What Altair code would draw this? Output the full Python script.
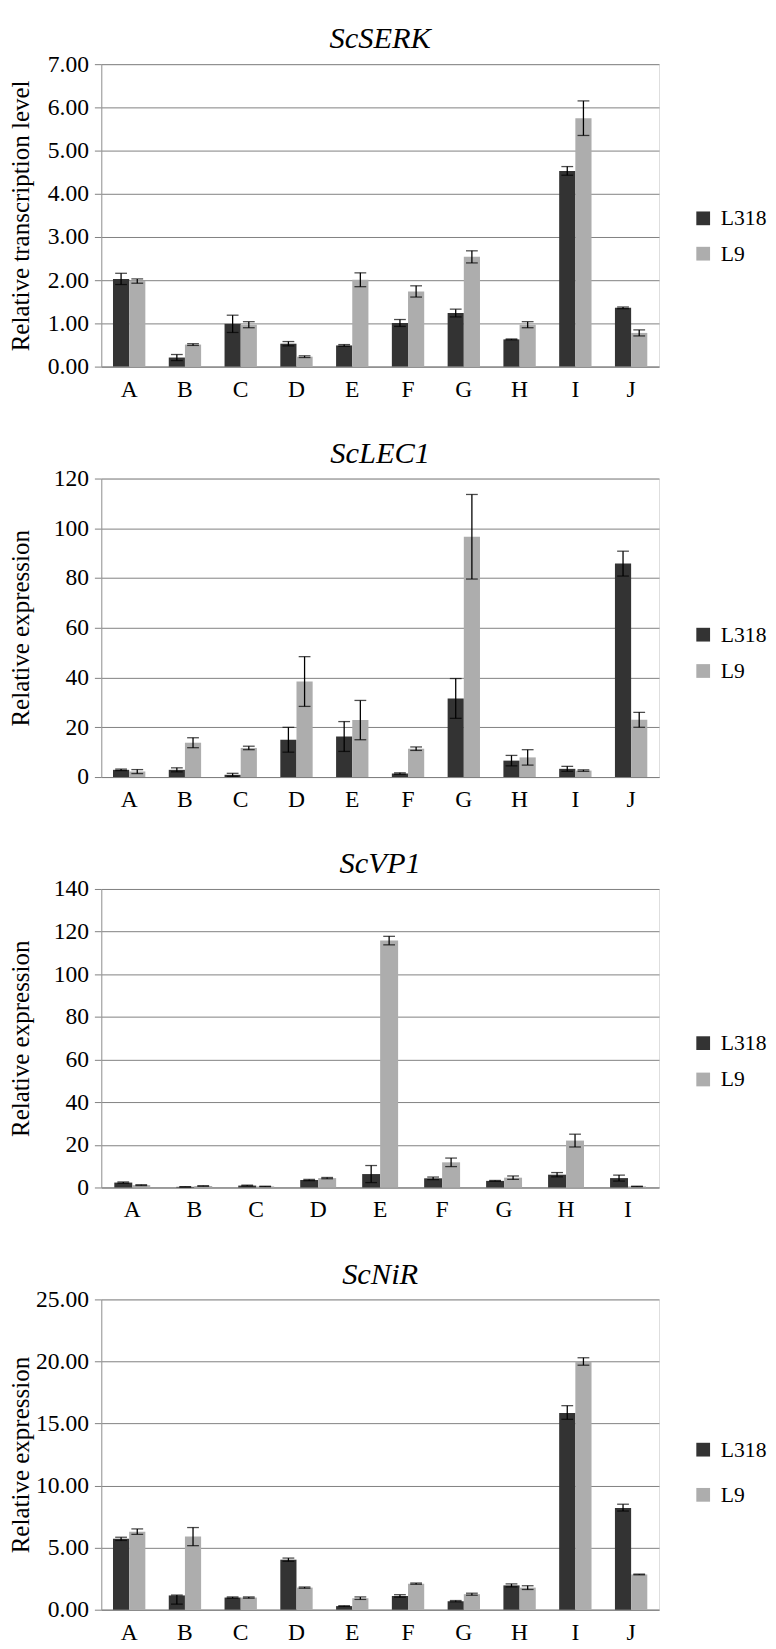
import altair as alt
import pandas as pd

FONT = "Liberation Serif"
SERIES = ["L318", "L9"]
COLORS = ["#333333", "#adadad"]
GRID = "#808080"

# ---- ScSERK ----
serk_cats = ["A", "B", "C", "D", "E", "F", "G", "H", "I", "J"]
serk_l318 = [2.03, 0.21, 0.99, 0.53, 0.49, 1.01, 1.24, 0.63, 4.53, 1.36]
serk_l318_err = [0.13, 0.07, 0.20, 0.05, 0.02, 0.08, 0.09, 0.01, 0.10, 0.02]
serk_l9 = [1.98, 0.51, 0.97, 0.23, 2.01, 1.74, 2.54, 0.97, 5.75, 0.78]
serk_l9_err = [0.05, 0.02, 0.07, 0.02, 0.16, 0.13, 0.14, 0.07, 0.40, 0.07]
serk_ticks = [0, 1, 2, 3, 4, 5, 6, 7]

# ---- ScLEC1 ----
lec_cats = ["A", "B", "C", "D", "E", "F", "G", "H", "I", "J"]
lec_l318 = [2.9, 2.9, 0.9, 15.0, 16.3, 1.4, 31.6, 6.6, 3.3, 85.8]
lec_l318_err = [0.3, 0.8, 0.6, 5.0, 6.0, 0.3, 8.0, 2.1, 1.0, 5.0]
lec_l9 = [2.2, 13.8, 11.7, 38.4, 22.9, 11.4, 96.6, 7.9, 2.6, 23.0]
lec_l9_err = [0.8, 2.0, 0.7, 10.0, 7.9, 0.7, 17.0, 3.1, 0.3, 3.0]
lec_ticks = [0, 20, 40, 60, 80, 100, 120]

# ---- ScVP1 ----
vp_cats = ["A", "B", "C", "D", "E", "F", "G", "H", "I"]
vp_l318 = [2.3, 0.3, 0.9, 3.5, 6.3, 4.3, 3.1, 6.0, 4.4]
vp_l318_err = [0.3, 0.1, 0.2, 0.3, 4.0, 0.6, 0.2, 1.0, 1.4]
vp_l9 = [1.1, 0.7, 0.5, 4.4, 115.8, 11.8, 4.6, 22.0, 0.5]
vp_l9_err = [0.2, 0.1, 0.1, 0.3, 2.0, 2.0, 0.8, 3.0, 0.1]
vp_ticks = [0, 20, 40, 60, 80, 100, 120, 140]

# ---- ScNiR ----
nir_cats = ["A", "B", "C", "D", "E", "F", "G", "H", "I", "J"]
nir_l318 = [5.71, 1.15, 0.98, 4.03, 0.29, 1.11, 0.69, 1.96, 15.84, 8.20]
nir_l318_err_lo = [0.13, 0.70, 0.05, 0.13, 0.03, 0.10, 0.05, 0.12, 0.50, 0.25]
nir_l318_err_hi = [0.13, 0.03, 0.05, 0.13, 0.03, 0.10, 0.05, 0.12, 0.60, 0.30]
nir_l9 = [6.29, 5.89, 0.98, 1.78, 0.93, 2.10, 1.25, 1.78, 20.00, 2.84]
nir_l9_err = [0.22, 0.73, 0.05, 0.05, 0.10, 0.05, 0.08, 0.15, 0.30, 0.03]
nir_ticks = [0, 5, 10, 15, 20, 25]


def make_df(cats, a, a_lo, a_hi, b, b_lo, b_hi):
    rows = []
    for i, c in enumerate(cats):
        rows.append({"cat": c, "series": "L318", "value": a[i],
                     "lo": a[i] - a_lo[i], "hi": a[i] + a_hi[i]})
        rows.append({"cat": c, "series": "L9", "value": b[i],
                     "lo": b[i] - b_lo[i], "hi": b[i] + b_hi[i]})
    return pd.DataFrame(rows)


def make_chart(df, cats, title, ytitle, ticks, fmt, height, legend_y, row_pad):
    ymax = ticks[-1]
    xenc = alt.X("cat:N", sort=cats,
                 scale=alt.Scale(domain=cats, paddingInner=0.42, paddingOuter=0.21),
                 axis=alt.Axis(title=None, ticks=False, labelAngle=0, labelPadding=11,
                               labelFont=FONT, labelFontSize=24, labelColor="black",
                               domainColor=GRID, domainWidth=1, grid=False))
    xoff = alt.XOffset("series:N", sort=SERIES,
                       scale=alt.Scale(domain=SERIES, paddingInner=0, paddingOuter=0))
    base = alt.Chart(df).encode(x=xenc, xOffset=xoff)
    yscale = alt.Scale(domain=[0, ymax], nice=False)
    bars = base.mark_bar().encode(
        y=alt.Y("value:Q", scale=yscale,
                axis=alt.Axis(values=ticks, format=fmt, title=ytitle,
                              grid=True, gridColor=GRID, gridWidth=1,
                              domainColor="#999999", tickColor=GRID, tickSize=7,
                              labelPadding=6, labelFont=FONT, labelFontSize=24,
                              labelColor="black",
                              titleFont=FONT, titleFontSize=25.5, titleFontWeight="normal",
                              titleColor="black", titleAngle=270, titleX=-82,
                              titleY=height / 2, titleAlign="center",
                              titleBaseline="middle")),
        color=alt.Color("series:N",
                        scale=alt.Scale(domain=SERIES, range=COLORS),
                        legend=alt.Legend(title=None, orient="none", legendX=602,
                                          legendY=legend_y, symbolType="square",
                                          symbolSize=196, symbolStrokeWidth=0,
                                          labelFont=FONT, labelFontSize=22,
                                          labelColor="black", labelOffset=7,
                                          rowPadding=row_pad)),
    )
    rules = base.mark_rule(color="black", strokeWidth=1.3).encode(
        y=alt.Y("lo:Q", scale=yscale), y2="hi:Q")
    cap_lo = base.mark_tick(color="black", thickness=1.3, size=12,
                            orient="horizontal").encode(y=alt.Y("lo:Q", scale=yscale))
    cap_hi = base.mark_tick(color="black", thickness=1.3, size=12,
                            orient="horizontal").encode(y=alt.Y("hi:Q", scale=yscale))
    return alt.layer(bars, rules, cap_lo, cap_hi).properties(
        width=568, height=height,
        title=alt.TitleParams(title, font=FONT, fontSize=31, fontStyle="italic",
                              fontWeight="normal", color="black", anchor="middle",
                              frame="group", offset=-3),
    )


c1 = make_chart(make_df(serk_cats, serk_l318, serk_l318_err, serk_l318_err,
                        serk_l9, serk_l9_err, serk_l9_err),
                serk_cats, "ScSERK", "Relative transcription level", serk_ticks,
                ".2f", 308, 146, 14)
c2 = make_chart(make_df(lec_cats, lec_l318, lec_l318_err, lec_l318_err,
                        lec_l9, lec_l9_err, lec_l9_err),
                lec_cats, "ScLEC1", "Relative expression", lec_ticks,
                "d", 304, 148, 15)
c3 = make_chart(make_df(vp_cats, vp_l318, vp_l318_err, vp_l318_err,
                        vp_l9, vp_l9_err, vp_l9_err),
                vp_cats, "ScVP1", "Relative expression", vp_ticks,
                "d", 304, 146, 15)
c4 = make_chart(make_df(nir_cats, nir_l318, nir_l318_err_lo, nir_l318_err_hi,
                        nir_l9, nir_l9_err, nir_l9_err),
                nir_cats, "ScNiR", "Relative expression", nir_ticks,
                ".2f", 316, 142, 24)

chart = alt.vconcat(c1, c2, c3, c4, spacing=36).resolve_scale(
    x="independent", y="independent", color="independent", xOffset="independent"
).resolve_legend(color="independent").properties(padding=0).configure_view(
    stroke=None
).configure(background="white")

chart.save("out.html", embed_options={"renderer": "svg", "actions": False})
